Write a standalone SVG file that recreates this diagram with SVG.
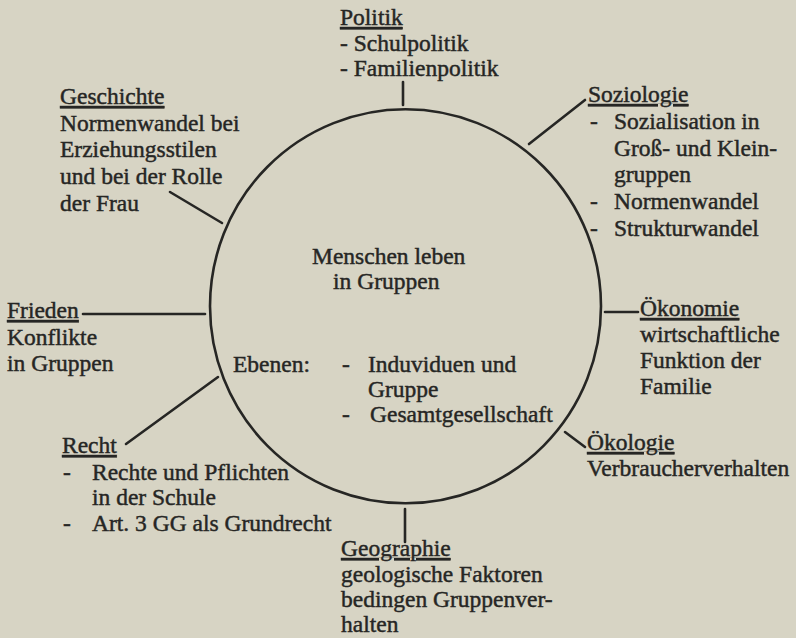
<svg xmlns="http://www.w3.org/2000/svg" width="796" height="638" viewBox="0 0 796 638">
<style>
text{font-family:"Liberation Serif","Times New Roman",serif;font-size:23.5px;fill:#262624;stroke:#262624;stroke-width:0.45px}
.h{text-decoration:underline}
.c{fill:none;stroke:#262624;stroke-width:2.6;stroke-linecap:round}
</style>
<rect width="796" height="638" fill="#d7d4c4"/>
<g id="center">
<ellipse class="c" cx="405.5" cy="306.3" rx="195.5" ry="197"/>
<text x="312" y="264">Menschen leben</text>
<text x="333" y="289">in Gruppen</text>
<text x="233" y="372">Ebenen:</text>
<text x="342" y="372">-</text>
<text x="368" y="372">Induviduen und</text>
<text x="368" y="397">Gruppe</text>
<text x="342" y="422">-</text>
<text x="370" y="422">Gesamtgesellschaft</text>
</g>
<g id="connectors">
<line class="c" x1="403" y1="82" x2="403" y2="105"/>
<line class="c" x1="529" y1="144" x2="585" y2="100"/>
<line class="c" x1="170" y1="192" x2="222" y2="223"/>
<line class="c" x1="83" y1="314" x2="205" y2="314"/>
<line class="c" x1="605" y1="312" x2="638" y2="312"/>
<line class="c" x1="218" y1="377" x2="126" y2="444"/>
<line class="c" x1="565" y1="432" x2="585" y2="447"/>
<line class="c" x1="405" y1="509" x2="405" y2="542"/>
</g>
<g id="politik">
<text class="h" x="340" y="25">Politik</text>
<text x="340" y="51">- Schulpolitik</text>
<text x="340" y="76">- Familienpolitik</text>
</g>
<g id="geschichte">
<text class="h" x="60" y="104">Geschichte</text>
<text x="60" y="131">Normenwandel bei</text>
<text x="60" y="157">Erziehungsstilen</text>
<text x="60" y="184">und bei der Rolle</text>
<text x="60" y="211">der Frau</text>
</g>
<g id="soziologie">
<text class="h" x="588" y="102">Soziologie</text>
<text x="590" y="129">-</text>
<text x="614" y="129">Sozialisation in</text>
<text x="614" y="156">Groß- und Klein-</text>
<text x="614" y="182">gruppen</text>
<text x="590" y="209">-</text>
<text x="614" y="209">Normenwandel</text>
<text x="590" y="236">-</text>
<text x="614" y="236">Strukturwandel</text>
</g>
<g id="frieden">
<text class="h" x="7" y="318">Frieden</text>
<text x="7" y="345">Konflikte</text>
<text x="7" y="371">in Gruppen</text>
</g>
<g id="oekonomie">
<text class="h" x="640" y="316">Ökonomie</text>
<text x="640" y="342">wirtschaftliche</text>
<text x="640" y="368">Funktion der</text>
<text x="640" y="394">Familie</text>
</g>
<g id="recht">
<text class="h" x="62" y="453">Recht</text>
<text x="63" y="480">-</text>
<text x="92" y="480">Rechte und Pflichten</text>
<text x="92" y="505">in der Schule</text>
<text x="63" y="531">-</text>
<text x="92" y="531">Art. 3 GG als Grundrecht</text>
</g>
<g id="oekologie">
<text class="h" x="587" y="450">Ökologie</text>
<text x="587" y="476">Verbraucherverhalten</text>
</g>
<g id="geographie">
<text class="h" x="341" y="556">Geographie</text>
<text x="341" y="582">geologische Faktoren</text>
<text x="341" y="607">bedingen Gruppenver-</text>
<text x="341" y="632">halten</text>
</g>
</svg>
